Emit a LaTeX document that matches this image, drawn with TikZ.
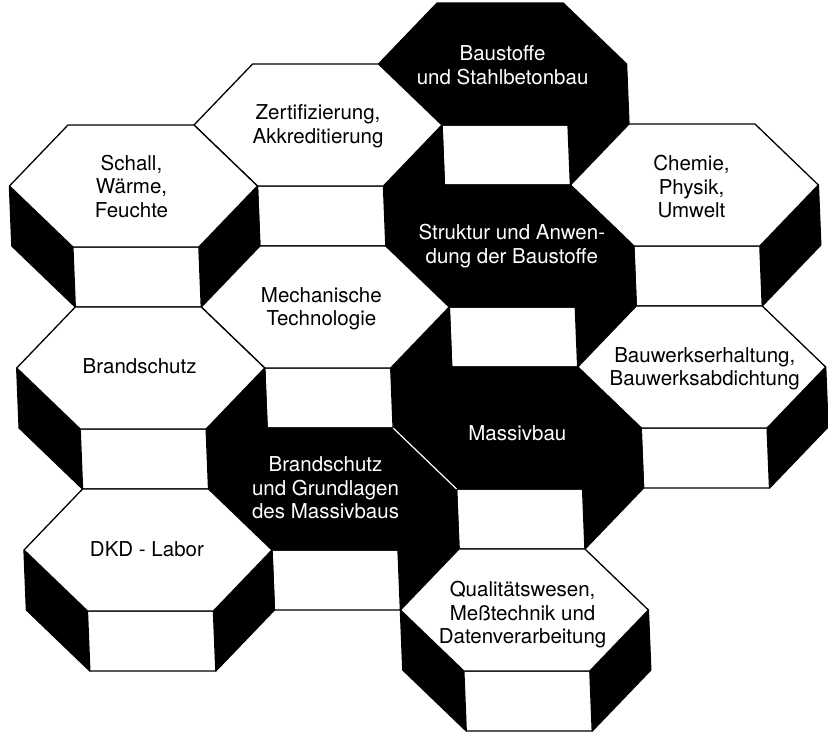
\documentclass[tikz,border=0pt]{standalone}
\usepackage{fontspec}
\setmainfont{TeX Gyre Heros}

% half width, half top edge, half height and depth of one hexagonal prism
\def\hw{124}
\def\ha{63}
\def\hh{61}
\def\hd{60}

% \hexprism{x}{y}{top colour}: black side faces, white front face, hexagonal top
\newcommand\hexprism[3]{%
  \filldraw[edge, fill=black]
    ({#1-\hw},{#2}) -- ({#1-\hw},{#2+\hd}) -- ({#1-\ha},{#2+\hh+\hd}) -- ({#1-\ha},{#2+\hh}) -- cycle;
  \filldraw[edge, fill=black]
    ({#1+\hw},{#2}) -- ({#1+\hw},{#2+\hd}) -- ({#1+\ha},{#2+\hh+\hd}) -- ({#1+\ha},{#2+\hh}) -- cycle;
  \filldraw[edge, fill=white]
    ({#1-\ha},{#2+\hh}) -- ({#1+\ha},{#2+\hh}) -- ({#1+\ha},{#2+\hh+\hd}) -- ({#1-\ha},{#2+\hh+\hd}) -- cycle;
  \filldraw[edge, fill=#3]
    ({#1-\hw},{#2}) -- ({#1-\ha},{#2-\hh}) -- ({#1+\ha},{#2-\hh}) -- ({#1+\hw},{#2})
    -- ({#1+\ha},{#2+\hh}) -- ({#1-\ha},{#2+\hh}) -- cycle;
}

\begin{document}
\begin{tikzpicture}[x=1pt, y=-1pt,
  edge/.style={draw=black, line width=1.3pt, line join=round},
  cellname/.style={align=center, inner sep=0pt,
    font=\fontsize{20.5}{23.5}\selectfont},
  darkname/.style={cellname, text=white}]

\useasboundingbox (0,0) rectangle (828,737);

\begin{scope}[xslant=-0.04]
  % prisms from back to front
  \hexprism{500}{64}{black}    % Baustoffe
  \hexprism{313}{125}{white}   % Zertifizierung
  \hexprism{126}{186}{white}   % Schall
  \hexprism{687}{185}{white}   % Chemie
  \hexprism{500}{246}{black}   % Struktur
  \hexprism{313}{307}{white}   % Mechanische Technologie
  \hexprism{126}{368}{white}   % Brandschutz
  \hexprism{687}{367}{white}   % Bauwerkserhaltung
  \hexprism{500}{428}{black}   % Massivbau
  \hexprism{313}{489}{black}   % Brandschutz und Grundlagen
  % white seam between the two dark tops
  \draw[white, line width=1.2pt] ({313+\ha},{489-\hh}) -- ({313+\hw},489);
  \hexprism{126}{550}{white}   % DKD
  \hexprism{500}{610}{black!0} % Qualitaetswesen

  % labels
  \node[darkname] (baustoffe) at (500,65) {Baustoffe\\und Stahlbetonbau};
  \node[cellname] (zert) at (313,126) {Zertifizierung,\\Akkreditierung};
  \node[cellname] (schall) at (124,186) {Schall,\\Wärme,\\Feuchte};
  \node[cellname] (chemie) at (684,187) {Chemie,\\Physik,\\Umwelt};
  \node[darkname] (struktur) at (502,246) {Struktur und Anwen-\\dung der Baustoffe};
  \node[cellname] (mech) at (309,309) {Mechanische\\Technologie};
  \node[cellname] (brand) at (125,366) {Brandschutz};
  \node[cellname] (bauwerk) at (690,369) {Bauwerkserhaltung,\\Bauwerksabdichtung};
  \node[darkname] (massiv) at (500,433) {Massivbau};
  \node[darkname] (grundlagen) at (306,488) {Brandschutz\\und Grundlagen\\des Massivbaus};
  \node[cellname] (dkd) at (125,549) {DKD - Labor};
  \node[cellname] (qual) at (498,615) {Qualitätswesen,\\Meßtechnik und\\Datenverarbeitung};
\end{scope}
\end{tikzpicture}
\end{document}
